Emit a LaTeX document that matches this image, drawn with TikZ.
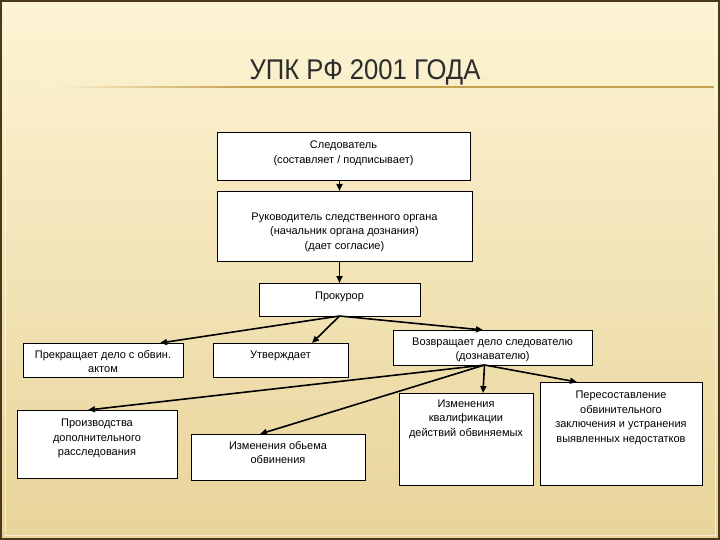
\documentclass[tikz,border=0pt]{standalone}
\usepackage{fontspec}
\setmainfont{Liberation Sans}
\newfontfamily\titlefont[FakeStretch=0.9]{Liberation Sans}
\usepackage{xcolor}
\usetikzlibrary{arrows.meta,positioning}

\definecolor{bgtop}{HTML}{FDF4D4}
\definecolor{bgmid}{HTML}{F8E8BA}
\definecolor{bgbot}{HTML}{E8D49A}
\definecolor{framecol}{HTML}{4A3A1C}
\definecolor{rulecol}{HTML}{C8A253}
\definecolor{ink}{HTML}{2C2C2C}

\vfuzz=6pt
\newcommand{\cellfont}{\fontsize{11}{14.5}\selectfont}
% box text: [top space] width, height (in pt), lines (top aligned)
\newcommand{\celltext}[4][2.5pt]{\parbox[c][#3pt][t]{#2pt}{\cellfont\centering\vspace*{#1}\strut #4}}

\begin{document}
\begin{tikzpicture}[
  x=1pt, y=-1pt,
  box/.style={draw, fill=white, line width=0.8pt, anchor=north west, inner xsep=0pt, inner ysep=4pt, outer sep=0pt},
  heading/.style={font=\titlefont\fontsize{28.5}{32}\selectfont, text=ink, anchor=base, inner sep=0pt},
  flow/.style={-{Triangle[length=7pt,width=6pt]}, line width=1.6pt, draw=black},
]
\useasboundingbox (0,0) rectangle (720,540);

% Slide background
\shade[top color=bgtop, middle color=bgmid, bottom color=bgbot] (0,0) rectangle (720,540);
\draw[framecol, line width=2pt] (1,1) rectangle (719,539);
\draw[white, opacity=0.6, line width=0.6pt] (5,5) rectangle (715,535);

% Title
\node[heading] (title) at (365,80) {УПК РФ 2001 ГОДА};
\shade[left color=bgtop, right color=rulecol] (45,86.5) rectangle (240,88);
\fill[rulecol] (240,86.5) rectangle (714,88);

% Upper chain
\node[box] (sled) at (217,132) {\celltext{253}{40}{Следователь\\(составляет / подписывает)}};
\node[box] (ruk) at (217,191) {\celltext[15pt]{255}{62}{Руководитель следственного органа\\(начальник органа дознания)\\(дает согласие)}};
\node[box] (prok) at (259,283) {\celltext{161}{25}{Прокурор}};

% Prosecutor's decisions
\node[box] (prekr) at (23,343) {\celltext[1pt]{160}{26}{Прекращает дело с обвин.\\актом}};
\node[box] (utv) at (213,343) {\celltext[1pt]{135}{26}{Утверждает}};
\node[box] (vozv) at (393,330) {\celltext[1pt]{199}{27}{Возвращает дело следователю\\(дознавателю)}};

% Grounds for return
\node[box] (proizv) at (17,410) {\celltext{160}{60}{Производства\\дополнительного\\расследования}};
\node[box] (izmob) at (191,434) {\celltext[1pt]{174}{38}{Изменения обьема\\обвинения}};
\node[box] (izmkv) at (399,393) {\celltext[0pt]{134}{84}{Изменения\\квалификации\\действий обвиняемых}};
\node[box] (perest) at (540,382) {\celltext{162}{95}{Пересоставление\\обвинительного\\заключения и устранения\\выявленных недостатков}};

\draw[flow] (sled.south -| prok.south) -- (ruk.north -| prok.south);
\draw[flow] (ruk.south -| prok.south) -- (prok.north);

\draw[flow] (prok.south) -- ([xshift=57pt]prekr.north);
\draw[flow] (prok.south) -- ([xshift=31.5pt]utv.north);
\draw[flow] (prok.south) -- ([xshift=-9.5pt]vozv.north);

\coordinate (vout) at ([xshift=-8pt]vozv.south);
\draw[flow] (vout) -- ([xshift=-9pt]proizv.north);
\draw[flow] (vout) -- ([xshift=-18pt]izmob.north);
\draw[flow] (vout) -- ([xshift=17pt]izmkv.north);
\draw[flow] (vout) -- ([xshift=-44pt]perest.north);

\end{tikzpicture}
\end{document}
